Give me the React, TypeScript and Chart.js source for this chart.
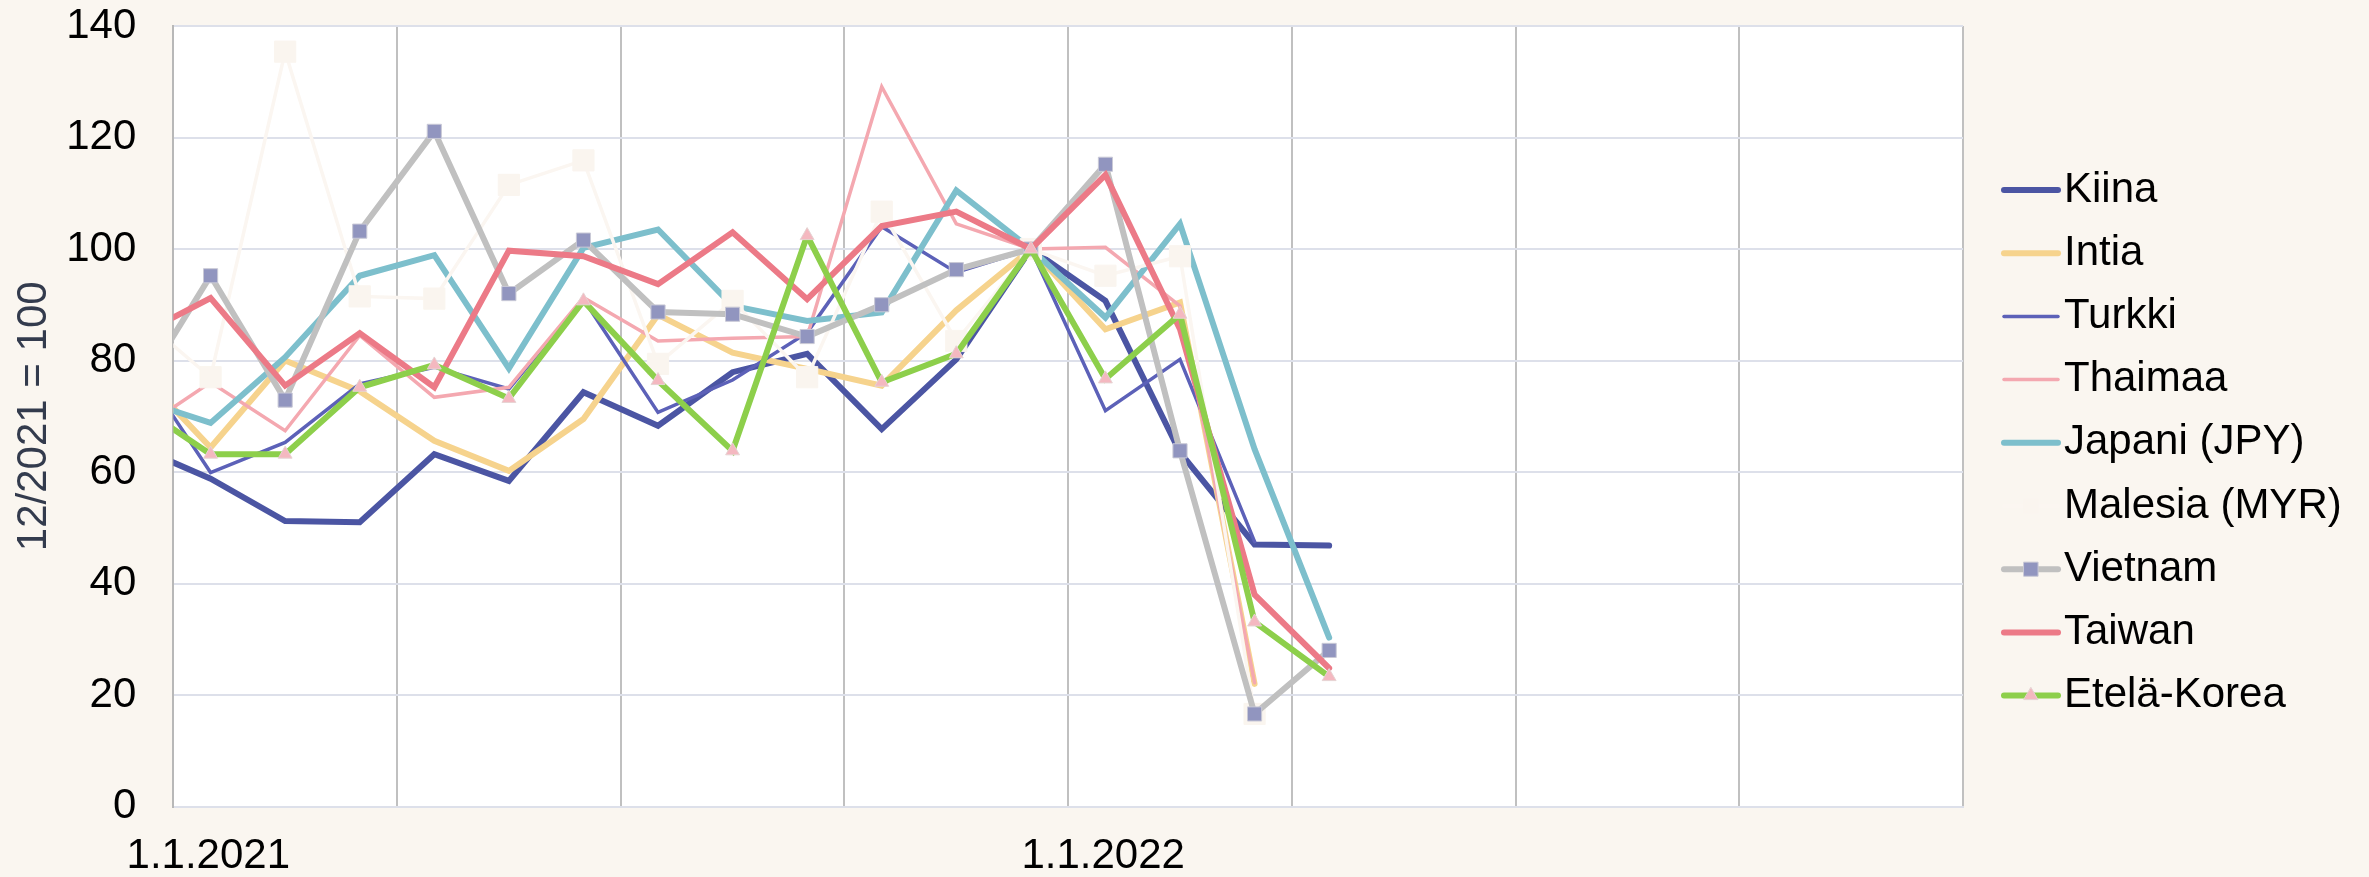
import React, { useEffect, useRef } from 'react';
import { Chart, registerables } from 'chart.js';

Chart.register(...registerables);

// Mid-month positions (months since 1.1.2021): Dec 2020 ... Apr 2022
const monthPos = [-0.5, 0.5, 1.5, 2.5, 3.5, 4.5, 5.5, 6.5, 7.5, 8.5, 9.5, 10.5, 11.5, 12.5, 13.5, 14.5, 15.5];

const kiina = [64.6, 58.8, 51.2, 51.0, 63.2, 58.4, 74.3, 68.3, 77.9, 81.2, 67.7, 80.2, 100, 90.7, 63.5, 47.0, 46.8];
const intia = [78.6, 64.4, 80.0, 74.5, 65.6, 60.2, 69.5, 88.2, 81.4, 78.5, 75.5, 89.0, 100, 85.6, 90.4, 22.0, null];
const turkki = [80.1, 59.9, 65.3, 75.8, 78.8, 74.9, 91.0, 70.7, 76.5, 85.0, 104.0, 95.8, 100, 71.0, 80.2, 47.5, null];
const thaimaa = [67.1, 76.1, 67.4, 84.5, 73.4, 75.2, 91.3, 83.5, 84.0, 84.3, 129.1, 104.5, 100, 100.3, 89.8, 22.2, null];
const japani = [73.2, 68.8, 80.6, 95.2, 98.9, 78.6, 100.2, 103.5, 89.8, 87.1, 88.6, 110.5, 100, 87.7, 104.5, 64.1, 30.3];
const malesia = [88.4, 77.0, 135.4, 91.5, 91.1, 111.5, 115.9, 79.4, 90.7, 77.0, 106.7, 83.5, 100, 95.2, 98.7, 16.6, null];
const vietnam = [73.6, 95.2, 72.9, 103.2, 121.1, 92.0, 101.6, 88.7, 88.3, 84.3, 90.0, 96.3, 100, 115.2, 63.8, 16.6, 28.0];
const taiwan = [84.2, 91.2, 75.5, 84.9, 75.2, 99.7, 98.7, 93.7, 103.0, 91.0, 104.1, 106.7, 100, 113.3, 85.6, 38.0, 24.8];
const etelaKorea = [72.2, 63.2, 63.2, 75.2, 79.2, 73.2, 90.7, 76.4, 63.8, 102.4, 76.1, 81.2, 100, 76.7, 88.3, 33.1, 23.3];

const seriesNames = ['Kiina', 'Intia', 'Turkki', 'Thaimaa', 'Japani (JPY)', 'Malesia (MYR)', 'Vietnam', 'Taiwan', 'Etelä-Korea'];
const seriesValues = [kiina, intia, turkki, thaimaa, japani, malesia, vietnam, taiwan, etelaKorea];

const xTickValues = [0, 12];
const xTickTexts = ['1.1.2021', '1.1.2022'];
const yTitle = '12/2021 = 100';

const FONT = 'Liberation Sans, Arial, sans-serif';

const styles = [
  { color: '#4b55a3', width: 6 },
  { color: '#f6d38d', width: 6 },
  { color: '#5c61b8', width: 3.5 },
  { color: '#f4a8b0', width: 3.5 },
  { color: '#7dbfcc', width: 6 },
  { color: '#fbf6f1', width: 3.5, marker: 'rect', radius: 15, fill: '#faf5ef', border: '#faf5ef' },
  { color: '#c0c0c0', width: 6, marker: 'rect', radius: 10, fill: '#9195bf', border: '#c9c9d6' },
  { color: '#ec7a87', width: 6 },
  { color: '#8dcf4b', width: 6, marker: 'triangle', radius: 8, fill: '#f4b8c0', border: '#e6d3d3' },
];

const bgPlugin = {
  id: 'bg',
  beforeDraw(chart: any) {
    const { ctx, chartArea } = chart;
    ctx.save();
    ctx.fillStyle = '#faf6f0';
    ctx.fillRect(0, 0, chart.width, chart.height);
    ctx.fillStyle = '#ffffff';
    ctx.fillRect(chartArea.left, chartArea.top, chartArea.right - chartArea.left, chartArea.bottom - chartArea.top);
    ctx.restore();
  },
};

function drawMarker(ctx: any, st: any, x: number, y: number) {
  if (!st.marker) return;
  ctx.save();
  ctx.fillStyle = st.fill;
  ctx.strokeStyle = st.border;
  ctx.lineWidth = 1;
  ctx.beginPath();
  if (st.marker === 'rect') {
    const s = Math.SQRT1_2 * st.radius;
    ctx.rect(x - s, y - s, 2 * s, 2 * s);
  } else {
    let rad = 0;
    ctx.moveTo(x + Math.sin(rad) * st.radius, y - Math.cos(rad) * st.radius);
    rad += (2 * Math.PI) / 3;
    ctx.lineTo(x + Math.sin(rad) * st.radius, y - Math.cos(rad) * st.radius);
    rad += (2 * Math.PI) / 3;
    ctx.lineTo(x + Math.sin(rad) * st.radius, y - Math.cos(rad) * st.radius);
    ctx.closePath();
  }
  ctx.fill();
  ctx.stroke();
  ctx.restore();
}

const legendPlugin = {
  id: 'customLegend',
  afterDraw(chart: any) {
    const { ctx } = chart;
    const x0 = 2004;
    const x1 = 2058;
    const tx = 2064;
    const top = 190;
    const step = 63.2;
    ctx.save();
    chart.data.datasets.forEach((ds: any, i: number) => {
      const st = styles[i];
      const y = top + i * step;
      ctx.strokeStyle = st.color;
      ctx.lineWidth = st.width;
      ctx.lineCap = 'round';
      ctx.beginPath();
      ctx.moveTo(x0, y);
      ctx.lineTo(x1, y);
      ctx.stroke();
      const mst = st.marker === 'rect' && st.radius > 12 ? { ...st, radius: 10 } : st;
      drawMarker(ctx, mst, (x0 + x1) / 2, y);
      ctx.fillStyle = '#000000';
      ctx.font = `42px ${FONT}`;
      ctx.textBaseline = 'middle';
      ctx.textAlign = 'left';
      ctx.fillText(ds.label, tx, y);
    });
    ctx.restore();
  },
};

export default function App() {
  const ref = useRef<HTMLCanvasElement | null>(null);

  useEffect(() => {
    document.body.style.margin = '0';
    const canvas = ref.current;
    if (!canvas) return;
    const n = seriesNames.length;
    const datasets = seriesNames.map((name, i) => {
      const st: any = styles[i];
      return {
        label: name,
        data: seriesValues[i].map((v, j) => ({ x: monthPos[j], y: v })),
        borderColor: st.color,
        backgroundColor: st.color,
        borderWidth: st.width,
        borderCapStyle: 'round',
        tension: 0,
        clip: 0,
        order: n - i,
        pointRadius: st.marker ? st.radius : 0,
        pointHoverRadius: st.marker ? st.radius : 0,
        pointStyle: st.marker || 'circle',
        pointBackgroundColor: st.fill,
        pointBorderColor: st.border,
        pointBorderWidth: 1,
        spanGaps: false,
      };
    });

    const chart = new Chart(canvas, {
      type: 'line',
      data: { datasets } as any,
      options: {
        animation: false,
        responsive: false,
        devicePixelRatio: 1,
        layout: { padding: { top: 26, left: 0, right: 406, bottom: 0 } },
        plugins: {
          legend: { display: false },
          tooltip: { enabled: false },
        },
        scales: {
          x: {
            type: 'linear',
            min: 0,
            max: 24,
            grid: { color: '#c0c0c0', lineWidth: 2, drawTicks: false },
            border: { color: '#dde0ea', width: 2 },
            ticks: {
              stepSize: 3,
              autoSkip: false,
              maxRotation: 0,
              padding: 25,
              labelOffset: 35,
              color: '#000000',
              font: { family: FONT, size: 42 },
              callback: (value: any) => {
                const k = xTickValues.indexOf(Number(value));
                return k >= 0 ? xTickTexts[k] : '';
              },
            },
            afterFit: (scale: any) => {
              scale.height = 70.5;
              scale.paddingLeft = 0;
              scale.paddingRight = 0;
            },
          },
          y: {
            min: 0,
            max: 140,
            grid: { color: '#dde0ea', lineWidth: 2, drawTicks: false },
            border: { color: '#b8b8b8', width: 2 },
            ticks: {
              stepSize: 20,
              padding: 37,
              color: '#000000',
              font: { family: FONT, size: 42 },
            },
            title: {
              display: true,
              text: yTitle,
              color: '#333b4d',
              font: { family: FONT, size: 42 },
              padding: { top: 9, bottom: 0 },
            },
            afterFit: (scale: any) => {
              scale.width = 173.3;
              scale.paddingTop = 0;
              scale.paddingBottom = 0;
            },
          },
        },
      } as any,
      plugins: [bgPlugin, legendPlugin],
    });
    return () => chart.destroy();
  }, []);

  return (
    <div style={{ width: 2369, height: 877 }}>
      <canvas ref={ref} width={2369} height={877} style={{ display: 'block', width: 2369, height: 877 }} />
    </div>
  );
}
